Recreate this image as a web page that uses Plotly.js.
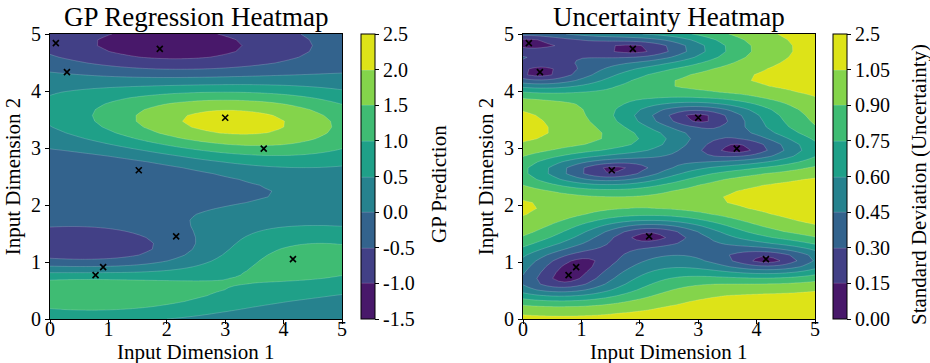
<!DOCTYPE html>
<html>
<head>
<meta charset="utf-8">
<script src="https://cdn.plot.ly/plotly-3.0.1.min.js"></script>
<style>html,body{margin:0;padding:0;background:#fff;}#chart{width:930px;height:363px;}</style>
</head>
<body>
<div id="chart"></div>
<script>
const trainX1 = [0.10, 1.88, 0.29, 3.00, 3.66, 1.52, 2.16, 0.91, 0.78, 4.16];
const trainX2 = [4.84, 4.74, 4.33, 3.53, 2.99, 2.61, 1.45, 0.91, 0.77, 1.05];
const trainY  = [-0.70, -1.25, -0.05, 2.20, 1.35, -0.30, -0.20, 0.05, 0.70, 1.20];

// ---- GP kernel settings (anisotropic RBF) ----
const kernelVariance = 1.30;
const lengthScaleX = 1.85;
const lengthScaleY = 0.42;
const noiseVariance = 1e-3;
const gridCount = 50;

// ---- Contour levels and colour bar labels ----
const meanLevels = {start: -1.0, end: 2.0, size: 0.5};
const meanRange = [-1.5, 2.5];
const meanTickVals = [-1.5, -1.0, -0.5, 0.0, 0.5, 1.0, 1.5, 2.0, 2.5];
const meanTickText = ['-1.5', '-1.0', '-0.5', '0.0', '0.5', '1.0', '1.5', '2.0', '2.5'];
const stdLevels = {start: 0.15, end: 1.05, size: 0.15};
const stdRange = [0.0, 1.2];
const stdTickVals = [0.00, 0.15, 0.30, 0.45, 0.60, 0.75, 0.90, 1.05, 1.20];
const stdTickText = ['0.00', '0.15', '0.30', '0.45', '0.60', '0.75', '0.90', '1.05', '2.5'];
const bandColors = ['#48186a', '#424086', '#33638d', '#26828e', '#1fa088', '#3fbc73', '#84d44b', '#dde318'];
const axisTicks = [0, 1, 2, 3, 4, 5];

// ---- GP posterior on a grid ----
function kern(ax, ay, bx, by) {
  const dx = (ax - bx) / lengthScaleX, dy = (ay - by) / lengthScaleY;
  return kernelVariance * Math.exp(-0.5 * (dx * dx + dy * dy));
}
const n = trainX1.length;
const K = [];
for (let i = 0; i < n; i++) {
  K.push([]);
  for (let j = 0; j < n; j++) K[i].push(kern(trainX1[i], trainX2[i], trainX1[j], trainX2[j]) + (i === j ? noiseVariance : 0));
}
const L = K.map(r => r.map(() => 0));
for (let i = 0; i < n; i++) {
  for (let j = 0; j <= i; j++) {
    let s = K[i][j];
    for (let k = 0; k < j; k++) s -= L[i][k] * L[j][k];
    L[i][j] = (i === j) ? Math.sqrt(s) : s / L[j][j];
  }
}
function fwd(b) { const x = []; for (let i = 0; i < n; i++) { let s = b[i]; for (let k = 0; k < i; k++) s -= L[i][k] * x[k]; x.push(s / L[i][i]); } return x; }
function bwd(b) { const x = new Array(n).fill(0); for (let i = n - 1; i >= 0; i--) { let s = b[i]; for (let k = i + 1; k < n; k++) s -= L[k][i] * x[k]; x[i] = s / L[i][i]; } return x; }
const alpha = bwd(fwd(trainY));

const gx = [], gy = [];
for (let i = 0; i < gridCount; i++) { gx.push(5 * i / (gridCount - 1)); gy.push(5 * i / (gridCount - 1)); }
const zMean = [], zStd = [];
for (let r = 0; r < gridCount; r++) {
  const rowM = [], rowS = [];
  for (let c = 0; c < gridCount; c++) {
    const ks = [];
    for (let i = 0; i < n; i++) ks.push(kern(gx[c], gy[r], trainX1[i], trainX2[i]));
    let m = 0; for (let i = 0; i < n; i++) m += ks[i] * alpha[i];
    const v = fwd(ks); let vv = 0; for (let i = 0; i < n; i++) vv += v[i] * v[i];
    rowM.push(m); rowS.push(Math.sqrt(Math.max(kernelVariance - vv, 0)));
  }
  zMean.push(rowM); zStd.push(rowS);
}

function steppedScale(colors) {
  const nb = colors.length, d = nb - 1, s = [];
  colors.forEach((c, k) => {
    s.push([Math.max(0, (k - 0.5) / d), c]);
    s.push([Math.min(1, (k + 0.5) / d), c]);
  });
  return s;
}
const FONT = 'Liberation Serif, Times New Roman, serif';
const PAD = '\u00a0\u00a0\u00a0';
const cbCommon = {
  thickness: 14, thicknessmode: 'pixels', len: 285, lenmode: 'pixels',
  y: 1 - 176.5 / 363, yanchor: 'middle', xanchor: 'left', xpad: 0, ypad: 0,
  outlinewidth: 1, outlinecolor: '#000', ticks: 'outside', ticklen: 4, tickwidth: 1, tickcolor: '#000',
  tickfont: {family: FONT, size: 20, color: '#000'}, tickprefix: PAD
};
const contourLine = {color: 'rgba(255,255,255,0.35)', width: 0.5, smoothing: 0};

const traces = [
  {type: 'contour', x: gx, y: gy, z: zMean, xaxis: 'x', yaxis: 'y', zmin: meanRange[0], zmax: meanRange[1],
   autocontour: false, contours: Object.assign({coloring: 'fill', showlines: true}, meanLevels),
   line: contourLine, colorscale: steppedScale(bandColors), hoverinfo: 'skip',
   colorbar: Object.assign({}, cbCommon, {x: 360.5 / 930, tickvals: meanTickVals, ticktext: meanTickText})},
  {type: 'scatter', mode: 'markers', x: trainX1, y: trainX2, xaxis: 'x', yaxis: 'y', showlegend: false,
   marker: {symbol: 'x-thin', size: 6, color: '#000', line: {color: '#000', width: 1.6}}},
  {type: 'contour', x: gx, y: gy, z: zStd, xaxis: 'x2', yaxis: 'y2', zmin: stdRange[0], zmax: stdRange[1],
   autocontour: false, contours: Object.assign({coloring: 'fill', showlines: true}, stdLevels),
   line: contourLine, colorscale: steppedScale(bandColors), hoverinfo: 'skip',
   colorbar: Object.assign({}, cbCommon, {x: 833 / 930, tickvals: stdTickVals, ticktext: stdTickText})},
  {type: 'scatter', mode: 'markers', x: trainX1, y: trainX2, xaxis: 'x2', yaxis: 'y2', showlegend: false,
   marker: {symbol: 'x-thin', size: 6, color: '#000', line: {color: '#000', width: 1.6}}}
];

function axis(domain, anchor, title, isX) {
  const a = {domain: domain, anchor: anchor, range: [0, 5], tickvals: axisTicks, ticks: 'outside', ticklen: 4, tickwidth: 1,
    tickcolor: '#000', showline: true, mirror: true, linecolor: '#000', linewidth: 1, showgrid: false, zeroline: false,
    tickfont: {family: FONT, size: 20, color: '#000'}};
  if (isX) a.ticklabelstandoff = -12;
  else a.title = {text: title, font: {family: FONT, size: 21, color: '#000'}, standoff: 4};
  return a;
}
const yDom = [1 - 319 / 363, 1 - 34 / 363];
function ann(text, x, y, size, angle) {
  return {text: text, x: x / 930, y: 1 - y / 363, xref: 'paper', yref: 'paper', xanchor: 'center', yanchor: 'middle',
    showarrow: false, textangle: angle || 0, font: {family: FONT, size: size, color: '#000'}};
}
const layout = {
  width: 930, height: 363, margin: {l: 0, r: 0, t: 0, b: 0}, showlegend: false,
  paper_bgcolor: '#fff', plot_bgcolor: '#fff', font: {family: FONT, color: '#000'},
  xaxis: axis([50 / 930, 342 / 930], 'y', 'Input Dimension 1', true),
  yaxis: axis(yDom, 'x', 'Input Dimension 2', false),
  xaxis2: axis([523 / 930, 815 / 930], 'y2', 'Input Dimension 1', true),
  yaxis2: axis(yDom, 'x2', 'Input Dimension 2', false),
  annotations: [
    ann('GP Regression Heatmap', 196, 17, 27),
    ann('Uncertainty Heatmap', 669, 17, 27),
    ann('Input Dimension 1', 196, 352, 21),
    ann('Input Dimension 1', 669, 352, 21),
    ann('GP Prediction', 439, 184, 21, -90),
    ann('Standard Deviation (Uncertainty)', 919, 185, 21, -90)
  ]
};
Plotly.newPlot('chart', traces, layout, {staticPlot: true, displayModeBar: false});
</script>
</body>
</html>
